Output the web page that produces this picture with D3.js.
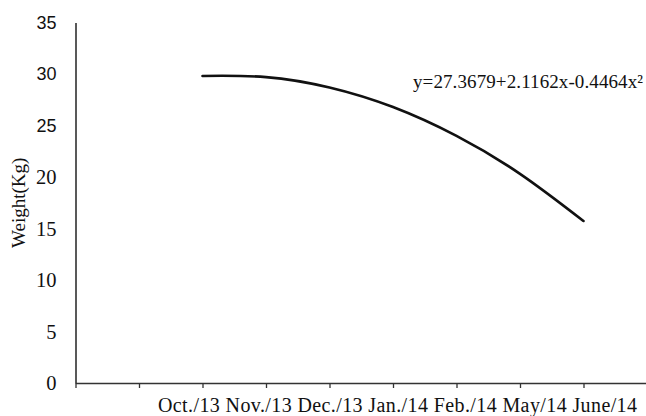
<!DOCTYPE html>
<html>
<head>
<meta charset="utf-8">
<script src="https://cdn.jsdelivr.net/npm/d3@7/dist/d3.min.js"></script>
<style>
  html, body { margin: 0; padding: 0; background: #fff; }
  svg { display: block; }
</style>
</head>
<body>
<svg id="chart" width="646" height="416"></svg>
<script>
// Monthly weight (Kg), positioned at x = 2..8 on the fitted scale
const months = ["Oct./13", "Nov./13", "Dec./13", "Jan./14", "Feb./14", "May/14", "June/14"];
const monthPos = [2, 3, 4, 5, 6, 7, 8];
const weights = [29.81, 29.70, 28.69, 26.79, 23.99, 20.31, 15.73];
const yTicks = [0, 5, 10, 15, 20, 25, 30, 35];
const xTicks = [0, 1, 2, 3, 4, 5, 6, 7, 8, 9];
const equation = "y=27.3679+2.1162x-0.4464x²";

const svg = d3.select("#chart");
const plotLeft = 75.5, plotRight = 647, plotTop = 22.5, plotBottom = 383;
const serif = "'Liberation Serif', 'Times New Roman', serif";
const sans = "'Liberation Sans', Arial, sans-serif";

const x = d3.scaleLinear().domain([0, 9]).range([plotLeft, plotRight]);
const y = d3.scaleLinear().domain([0, 35]).range([plotBottom, plotTop]);

// Y axis: line and labels, no tick marks
const yAxis = svg.append("g")
  .attr("transform", `translate(${plotLeft},0)`)
  .call(d3.axisLeft(y).tickValues(yTicks).tickSize(0).tickPadding(19));
yAxis.select(".domain").attr("stroke", "#222").attr("stroke-width", 1.5);
yAxis.selectAll(".tick").each(function (d) {
  const upper = d >= 25;
  d3.select(this).select("text")
    .style("font-family", upper ? sans : serif)
    .style("font-size", (upper ? 18 : 20.5) + "px")
    .style("fill", "#111");
});

// X axis: line with tick marks
const xAxis = svg.append("g")
  .attr("transform", `translate(0,${plotBottom})`)
  .call(d3.axisBottom(x).tickValues(xTicks).tickSizeOuter(0).tickSizeInner(5)
    .tickFormat(""));
xAxis.select(".domain").attr("stroke", "#333").attr("stroke-width", 1.5);
xAxis.selectAll(".tick line").attr("stroke", "#333").attr("stroke-width", 1.3);

// Month labels set as one run of text below the axis
svg.append("text")
  .attr("x", 158)
  .attr("y", 412)
  .style("font-family", serif)
  .style("font-size", "20px")
  .attr("fill", "#111")
  .attr("textLength", 479)
  .attr("lengthAdjust", "spacing")
  .text(months.join(" "));

// Y axis title
svg.append("text")
  .attr("transform", `translate(25,${(plotTop + plotBottom) / 2}) rotate(-90)`)
  .attr("text-anchor", "middle")
  .style("font-family", serif)
  .style("font-size", "19px")
  .attr("fill", "#111")
  .text("Weight(Kg)");

// Fitted weight curve
const pts = monthPos.map((p, i) => [p, weights[i]]);
const line = d3.line()
  .x(d => x(d[0]))
  .y(d => y(d[1]))
  .curve(d3.curveNatural);
svg.append("path")
  .datum(pts)
  .attr("d", line)
  .attr("fill", "none")
  .attr("stroke", "#111")
  .attr("stroke-width", 2.6)
  .attr("stroke-linecap", "round");

// Regression equation
svg.append("text")
  .attr("x", 413)
  .attr("y", 88)
  .style("font-family", serif)
  .style("font-size", "19px")
  .attr("fill", "#111")
  .attr("textLength", 230)
  .attr("lengthAdjust", "spacing")
  .text(equation);
</script>
</body>
</html>
